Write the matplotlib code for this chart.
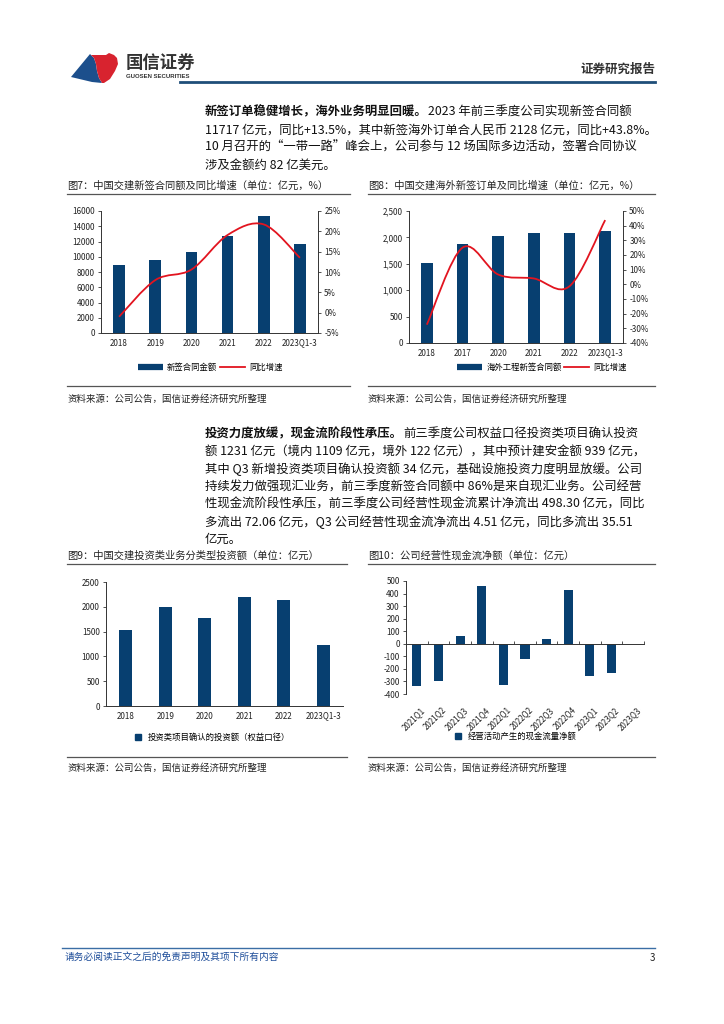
import numpy as np
import matplotlib
matplotlib.use('Agg')
import matplotlib.pyplot as plt
from matplotlib.lines import Line2D
from matplotlib.patches import Polygon, PathPatch
from matplotlib.path import Path

plt.rcParams['font.family'] = ['Noto Sans CJK SC', 'DejaVu Sans']
plt.rcParams['axes.unicode_minus'] = False

# ---- data ----
years = ['2018', '2019', '2020', '2021', '2022', '2023Q1-3']
years_ovs = ['2018', '2017', '2020', '2021', '2022', '2023Q1-3']
new_contract = [8900, 9600, 10600, 12700, 15350, 11717]
new_contract_yoy = [-1.0, 8.0, 10.6, 19.1, 21.7, 13.5]
overseas = [1506, 1873, 2019, 2089, 2076, 2128]
overseas_yoy = [-27.5, 25.0, 6.7, 4.0, -1.3, 43.8]
invest = [1528, 2004, 1769, 2191, 2131, 1231]
quarters = ['2021Q1', '2021Q2', '2021Q3', '2021Q4', '2022Q1', '2022Q2',
            '2022Q3', '2022Q4', '2023Q1', '2023Q2', '2023Q3']
op_cash = [-335, -300, 61, 457, -332, -119, 35, 425, -253, -235, -4.51]

para1 = [
    ('新签订单稳健增长，海外业务明显回暖。', '2023 年前三季度公司实现新签合同额'),
    ('', '11717 亿元，同比+13.5%，其中新签海外订单合人民币 2128 亿元，同比+43.8%。'),
    ('', '10 月召开的“一带一路”峰会上，公司参与 12 场国际多边活动，签署合同协议'),
    ('', '涉及金额约 82 亿美元。'),
]
para2 = [
    ('投资力度放缓，现金流阶段性承压。', '前三季度公司权益口径投资类项目确认投资'),
    ('', '额 1231 亿元（境内 1109 亿元，境外 122 亿元），其中预计建安金额 939 亿元，'),
    ('', '其中 Q3 新增投资类项目确认投资额 34 亿元，基础设施投资力度明显放缓。公司'),
    ('', '持续发力做强现汇业务，前三季度新签合同额中 86%是来自现汇业务。公司经营'),
    ('', '性现金流阶段性承压，前三季度公司经营性现金流累计净流出 498.30 亿元，同比'),
    ('', '多流出 72.06 亿元，Q3 公司经营性现金流净流出 4.51 亿元，同比多流出 35.51'),
    ('', '亿元。'),
]

NAVY = '#073f70'
RED = '#e2141f'
AXC = '#333333'
TXT = '#222222'

W, H = 724, 1024
fig = plt.figure(figsize=(W / 100, H / 100), dpi=100)


def fx(x):
    return x / W


def fy(y):
    return 1 - y / H


def axes_px(l, t, r, b):
    return fig.add_axes([l / W, 1 - b / H, (r - l) / W, (b - t) / H])


def hline(x0, x1, y, color='#555555', lw=0.9):
    fig.add_artist(Line2D([fx(x0), fx(x1)], [fy(y), fy(y)], color=color, lw=lw))


def smooth_path(xs, ys):
    pts = np.column_stack([xs, ys]).astype(float)
    n = len(pts)
    verts, codes = [pts[0]], [Path.MOVETO]
    for i in range(n - 1):
        p0 = pts[i - 1] if i > 0 else pts[i]
        p1, p2 = pts[i], pts[i + 1]
        p3 = pts[i + 2] if i + 2 < n else pts[i + 1]
        verts += [p1 + (p2 - p0) / 6, p2 - (p3 - p1) / 6, p2]
        codes += [Path.CURVE4] * 3
    return Path(verts, codes)


def style_ax(ax):
    for s in ax.spines.values():
        s.set_color(AXC)
        s.set_linewidth(0.7)
    ax.spines['top'].set_visible(False)
    ax.tick_params(axis='y', length=2.5, width=0.6, color=AXC, labelsize=5.8,
                   pad=2, labelcolor=TXT)
    ax.tick_params(axis='x', length=0, labelsize=5.8, pad=4, labelcolor=TXT)


def bar_line(box, cats, bars, line, ylim, yticks, ylab, ylim2, yticks2):
    ax = axes_px(*box)
    x = np.arange(len(cats))
    ax.bar(x, bars, width=0.32, color=NAVY, zorder=2)
    ax.set_xlim(-0.5, len(cats) - 0.5)
    ax.set_ylim(*ylim)
    ax.set_yticks(yticks, [ylab(v) for v in yticks])
    ax.set_xticks(x, cats)
    style_ax(ax)
    ax.spines['right'].set_visible(False)
    ax2 = ax.twinx()
    ax2.add_patch(PathPatch(smooth_path(x, line), facecolor='none',
                            edgecolor=RED, lw=1.3, zorder=3))
    ax2.set_ylim(*ylim2)
    ax2.set_yticks(yticks2, ['%d%%' % v for v in yticks2])
    for s in ['top', 'left', 'bottom']:
        ax2.spines[s].set_visible(False)
    ax2.spines['right'].set_color(AXC)
    ax2.spines['right'].set_linewidth(0.7)
    ax2.tick_params(axis='y', length=2.5, width=0.6, color=AXC, labelsize=5.8,
                    pad=2, labelcolor=TXT)
    return ax


def write_para(lines, x0, ys, fs=8.9):
    fig.canvas.draw()
    r = fig.canvas.get_renderer()
    for (bold, rest), y in zip(lines, ys):
        x = fx(x0)
        if bold:
            t = fig.text(x, fy(y), bold, fontsize=fs, fontweight='bold',
                         va='center', color='#111111')
            bb = t.get_window_extent(r)
            x = x + bb.width / W
        fig.text(x, fy(y), rest, fontsize=fs, va='center', color='#111111')


# ---- header ----
blue_logo = [(71, 77), (90, 54), (94, 58), (96, 64), (97, 71), (99, 78), (102, 83), (92, 82)]
red_logo = [(91, 55), (106, 55), (109, 53), (114, 55), (117, 58), (118, 64), (115, 71),
            (110, 79), (104, 83), (102, 83), (99, 78), (97, 71), (96, 64), (94, 58)]
fig.add_artist(Polygon([(fx(a), fy(b)) for a, b in blue_logo], closed=True,
                       facecolor='#1c4f8c', edgecolor='none', transform=fig.transFigure))
fig.add_artist(Polygon([(fx(a), fy(b)) for a, b in red_logo], closed=True,
                       facecolor='#d8232f', edgecolor='none', transform=fig.transFigure))
fig.text(fx(126), fy(63), '国信证券', fontsize=12.5, fontweight='bold', color='#333333', va='center')
fig.text(fx(126), fy(77), 'GUOSEN SECURITIES', fontsize=4.3, fontweight='bold',
         family='Liberation Sans', color='#333333', va='center')
fig.text(fx(655), fy(69), '证券研究报告', fontsize=9, fontweight='bold', color='#333333',
         ha='right', va='center')
hline(180, 655, 82, color='#1f4e79', lw=2)

# ---- paragraph 1 ----
write_para(para1, 205, [112, 130, 147, 165])

# ---- chart titles / rules ----
fig.text(fx(67), fy(186), '图7：中国交建新签合同额及同比增速（单位：亿元，%）', fontsize=7.4, va='center', color=TXT)
fig.text(fx(368), fy(186), '图8：中国交建海外新签订单及同比增速（单位：亿元，%）', fontsize=7.4, va='center', color=TXT)
hline(67, 350, 194)
hline(368, 655, 194)

# ---- chart 7 ----
bar_line((101, 211, 318, 333), years, new_contract, new_contract_yoy,
         (0, 16000), list(range(0, 16001, 2000)), lambda v: '%d' % v,
         (-5, 25), list(range(-5, 26, 5)))
fig.legend([Line2D([], [], color=NAVY, lw=4.5, solid_capstyle='butt'),
            Line2D([], [], color=RED, lw=1.3)],
           ['新签合同金额', '同比增速'], loc='center', bbox_to_anchor=(fx(210), fy(367)),
           ncol=2, frameon=False, fontsize=6, handlelength=3, columnspacing=0.3,
           handletextpad=0.5)

# ---- chart 8 ----
bar_line((409, 211, 623, 343), years_ovs, overseas, overseas_yoy,
         (0, 2500), list(range(0, 2501, 500)), lambda v: '{:,}'.format(v),
         (-40, 50), list(range(-40, 51, 10)))
fig.legend([Line2D([], [], color=NAVY, lw=4.5, solid_capstyle='butt'),
            Line2D([], [], color=RED, lw=1.3)],
           ['海外工程新签合同额', '同比增速'], loc='center', bbox_to_anchor=(fx(542), fy(367)),
           ncol=2, frameon=False, fontsize=6, handlelength=3, columnspacing=0.3,
           handletextpad=0.5)

# ---- sources 1 ----
hline(67, 350, 386)
hline(368, 655, 386)
fig.text(fx(67), fy(399), '资料来源：公司公告，国信证券经济研究所整理', fontsize=6.8, va='center', color=TXT)
fig.text(fx(368), fy(399), '资料来源：公司公告，国信证券经济研究所整理', fontsize=6.8, va='center', color=TXT)

# ---- paragraph 2 ----
write_para(para2, 205, [434, 452, 469, 487, 504, 522, 539])

# ---- chart titles 9/10 ----
fig.text(fx(67), fy(556), '图9：中国交建投资类业务分类型投资额（单位：亿元）', fontsize=7.4, va='center', color=TXT)
fig.text(fx(368), fy(556), '图10：公司经营性现金流净额（单位：亿元）', fontsize=7.4, va='center', color=TXT)
hline(67, 347, 564)
hline(368, 655, 564)

# ---- chart 9 ----
ax9 = axes_px(106, 582, 343, 706)
x9 = np.arange(len(years))
ax9.bar(x9, invest, width=0.32, color=NAVY, zorder=2)
ax9.set_xlim(-0.5, len(years) - 0.5)
ax9.set_ylim(0, 2500)
ax9.set_yticks(range(0, 2501, 500))
ax9.set_xticks(x9, years)
style_ax(ax9)
ax9.spines['right'].set_visible(False)
fig.legend([Line2D([], [], color=NAVY, marker='s', ls='none', markersize=4)],
           ['投资类项目确认的投资额（权益口径）'], loc='center', bbox_to_anchor=(fx(210), fy(737)),
           frameon=False, fontsize=6, handletextpad=0.2)

# ---- chart 10 ----
ax10 = axes_px(406, 581, 644, 694)
x10 = np.arange(len(quarters))
ax10.bar(x10, op_cash, width=0.42, color=NAVY, zorder=2)
ax10.set_xlim(-0.5, len(quarters) - 0.5)
ax10.set_ylim(-400, 500)
ax10.set_yticks(range(-400, 501, 100))
style_ax(ax10)
ax10.spines['right'].set_visible(False)
ax10.spines['bottom'].set_position(('data', 0))
ax10.set_xticks(np.arange(-0.5, len(quarters), 1))
ax10.tick_params(axis='x', direction='in', length=2.5, width=0.6, color=AXC, labelbottom=False)
for i, q in zip(x10, quarters):
    ax10.text(i + 0.15, -0.1, q, transform=ax10.get_xaxis_transform(), rotation=45,
              ha='right', va='top', rotation_mode='anchor', fontsize=5.8, color=TXT)
fig.legend([Line2D([], [], color=NAVY, marker='s', ls='none', markersize=4)],
           ['经营活动产生的现金流量净额'], loc='center', bbox_to_anchor=(fx(513), fy(736)),
           frameon=False, fontsize=6, handletextpad=0.2)

# ---- sources 2 ----
hline(67, 347, 757)
hline(368, 655, 757)
fig.text(fx(67), fy(768), '资料来源：公司公告，国信证券经济研究所整理', fontsize=6.8, va='center', color=TXT)
fig.text(fx(368), fy(768), '资料来源：公司公告，国信证券经济研究所整理', fontsize=6.8, va='center', color=TXT)

# ---- footer ----
hline(62, 655, 948, color='#3b6ea5', lw=1)
fig.text(fx(65), fy(957), '请务必阅读正文之后的免责声明及其项下所有内容', fontsize=7,
         style='italic', color='#1f4e9a', va='center')
fig.text(fx(655), fy(958), '3', fontsize=7, color=TXT, ha='right', va='center')

fig.savefig('out.png', dpi=100)
